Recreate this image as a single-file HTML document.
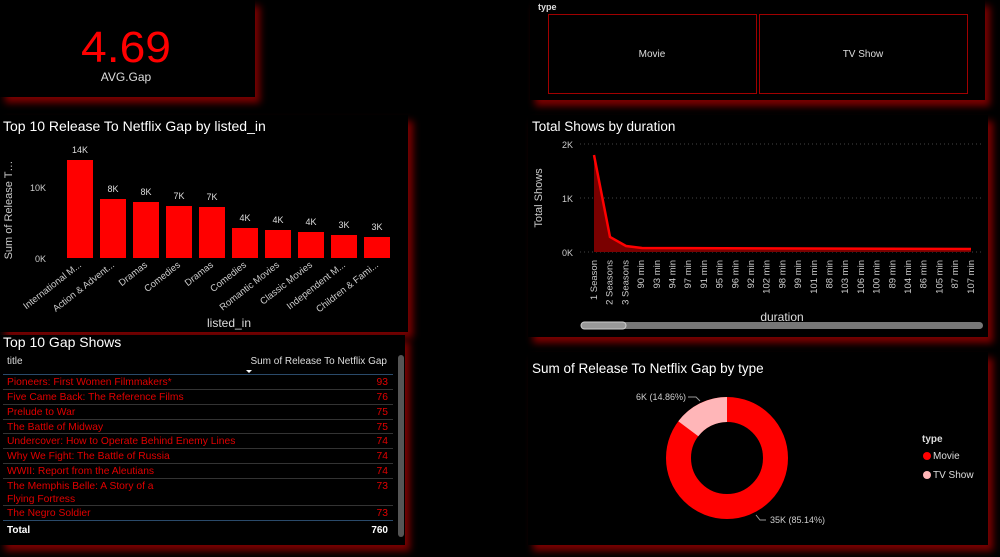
<!DOCTYPE html>
<html><head><meta charset="utf-8"><style>
body{margin:0;background:#000;width:1000px;height:557px;overflow:hidden;font-family:"Liberation Sans",sans-serif}
.p{position:absolute;background:#000;box-shadow:5px 6px 7px #7a0000}
</style></head><body>
<div class="p" style="left:0;top:0;width:255px;height:97px"></div>
<div class="p" style="left:530px;top:0;width:455px;height:100px"></div>
<div class="p" style="left:0;top:115px;width:408px;height:217px"></div>
<div class="p" style="left:528px;top:115px;width:460px;height:222px"></div>
<div class="p" style="left:0;top:335px;width:405px;height:210px"></div>
<div class="p" style="left:528px;top:352px;width:460px;height:193px"></div>
<svg width="1000" height="557" style="position:absolute;left:0;top:0" font-family="Liberation Sans, sans-serif">
<text x="126" y="62" fill="#ff0000" font-size="44" text-anchor="middle" textLength="90" lengthAdjust="spacingAndGlyphs">4.69</text>
<text x="126" y="81" fill="#ddd" font-size="12" text-anchor="middle">AVG.Gap</text>
<text x="538" y="10" fill="#ddd" font-size="9" font-weight="bold">type</text>
<rect x="548.5" y="14.5" width="208" height="79" fill="none" stroke="#a00000"/>
<rect x="759.5" y="14.5" width="208" height="79" fill="none" stroke="#a00000"/>
<text x="652" y="57" fill="#ddd" font-size="10" text-anchor="middle">Movie</text>
<text x="863" y="57" fill="#ddd" font-size="10" text-anchor="middle">TV Show</text>

<text x="3" y="131" fill="#fff" font-size="14">Top 10 Release To Netflix Gap by listed_in</text>
<text x="12" y="210" fill="#ccc" font-size="11" text-anchor="middle" transform="rotate(-90 12 210)">Sum of Release T…</text>
<text x="46" y="191" fill="#ccc" font-size="9" text-anchor="end">10K</text>
<text x="46" y="262" fill="#ccc" font-size="9" text-anchor="end">0K</text>
<g fill="#ff0000">
<rect x="67" y="160" width="26" height="98"/><rect x="100" y="199" width="26" height="59"/>
<rect x="133" y="202" width="26" height="56"/><rect x="166" y="206" width="26" height="52"/>
<rect x="199" y="207" width="26" height="51"/><rect x="232" y="228" width="26" height="30"/>
<rect x="265" y="230" width="26" height="28"/><rect x="298" y="232" width="26" height="26"/>
<rect x="331" y="235" width="26" height="23"/><rect x="364" y="237" width="26" height="21"/>
</g>
<g fill="#ddd" font-size="9" text-anchor="middle">
<text x="80" y="153">14K</text><text x="113" y="192">8K</text><text x="146" y="195">8K</text><text x="179" y="199">7K</text><text x="212" y="200">7K</text><text x="245" y="221">4K</text><text x="278" y="223">4K</text><text x="311" y="225">4K</text><text x="344" y="228">3K</text><text x="377" y="230">3K</text>
</g>
<g fill="#ccc" font-size="9.5" text-anchor="end">
<text transform="translate(82 266) rotate(-38)">International M...</text>
<text transform="translate(115 266) rotate(-38)">Action &amp; Advent...</text>
<text transform="translate(148 266) rotate(-38)">Dramas</text>
<text transform="translate(181 266) rotate(-38)">Comedies</text>
<text transform="translate(214 266) rotate(-38)">Dramas</text>
<text transform="translate(247 266) rotate(-38)">Comedies</text>
<text transform="translate(280 266) rotate(-38)">Romantic Movies</text>
<text transform="translate(313 266) rotate(-38)">Classic Movies</text>
<text transform="translate(346 266) rotate(-38)">Independent M...</text>
<text transform="translate(379 266) rotate(-38)">Children &amp; Fami...</text>
</g>
<text x="229" y="327" fill="#ddd" font-size="12" text-anchor="middle">listed_in</text>

<text x="532" y="131" fill="#fff" font-size="13.5">Total Shows by duration</text>
<text x="542" y="198" fill="#ccc" font-size="11" text-anchor="middle" transform="rotate(-90 542 198)">Total Shows</text>
<g fill="#ccc" font-size="9" text-anchor="end"><text x="573" y="148">2K</text><text x="573" y="202">1K</text><text x="573" y="256">0K</text></g>
<g stroke="#444" stroke-dasharray="1 3"><line x1="580" y1="144" x2="984" y2="144"/><line x1="580" y1="198" x2="984" y2="198"/><line x1="580" y1="252" x2="984" y2="252"/></g>
<path d="M594 155 L610 237 L626 246 L642 248 L971 249 L971 252 L594 252Z" fill="#7a0000"/>
<path d="M594 155 L610 237 L626 246 L642 248 L971 249" fill="none" stroke="#ff0000" stroke-width="2.5"/>
<g fill="#ccc" font-size="9.5" text-anchor="end" id="dl"></g>
<text x="782" y="321" fill="#ddd" font-size="12" text-anchor="middle">duration</text>
<rect x="581" y="322" width="402" height="7" rx="3.5" fill="#777"/>
<rect x="581" y="322" width="45" height="7" rx="3.5" fill="#999" stroke="#ccc"/>

<text x="3" y="347" fill="#fff" font-size="14">Top 10 Gap Shows</text>
<text x="7" y="364" fill="#ddd" font-size="10">title</text>
<text x="387" y="364" fill="#ddd" font-size="10" text-anchor="end">Sum of Release To Netflix Gap</text>
<path d="M246 370 h6 l-3 3z" fill="#fff"/>
<line x1="3" y1="374.5" x2="393" y2="374.5" stroke="#2a4a6a"/>
<g fill="#e00000" font-size="10.3">
<text x="7" y="385">Pioneers: First Women Filmmakers*</text><text x="388" y="385" text-anchor="end">93</text>
<text x="7" y="400">Five Came Back: The Reference Films</text><text x="388" y="400" text-anchor="end">76</text>
<text x="7" y="415">Prelude to War</text><text x="388" y="415" text-anchor="end">75</text>
<text x="7" y="430">The Battle of Midway</text><text x="388" y="430" text-anchor="end">75</text>
<text x="7" y="444">Undercover: How to Operate Behind Enemy Lines</text><text x="388" y="444" text-anchor="end">74</text>
<text x="7" y="459">Why We Fight: The Battle of Russia</text><text x="388" y="459" text-anchor="end">74</text>
<text x="7" y="474">WWII: Report from the Aleutians</text><text x="388" y="474" text-anchor="end">74</text>
<text x="7" y="489">The Memphis Belle: A Story of a</text><text x="388" y="489" text-anchor="end">73</text>
<text x="7" y="502">Flying Fortress</text>
<text x="7" y="516">The Negro Soldier</text><text x="388" y="516" text-anchor="end">73</text>
</g>
<g stroke="#333"><line x1="3" y1="389.5" x2="393" y2="389.5"/><line x1="3" y1="404.5" x2="393" y2="404.5"/><line x1="3" y1="419.5" x2="393" y2="419.5"/><line x1="3" y1="433.5" x2="393" y2="433.5"/><line x1="3" y1="448.5" x2="393" y2="448.5"/><line x1="3" y1="463.5" x2="393" y2="463.5"/><line x1="3" y1="478.5" x2="393" y2="478.5"/><line x1="3" y1="505.5" x2="393" y2="505.5"/></g>
<line x1="3" y1="520.5" x2="393" y2="520.5" stroke="#2a4a6a"/>
<text x="7" y="533" fill="#fff" font-size="10" font-weight="bold">Total</text>
<text x="388" y="533" fill="#fff" font-size="10" font-weight="bold" text-anchor="end">760</text>
<rect x="398" y="355" width="6" height="182" rx="3" fill="#555"/>

<text x="532" y="373" fill="#fff" font-size="13.5">Sum of Release To Netflix Gap by type</text>
<circle cx="727" cy="458" r="48.5" fill="none" stroke="#ff0000" stroke-width="25"/>
<path d="M727 397 A61 61 0 0 0 678.3 421.3 L698.3 436.3 A36 36 0 0 1 727 422Z" fill="#ffb6b8"/>
<path d="M688 397 h8 l4 4" fill="none" stroke="#999"/>
<text x="686" y="400" fill="#ccc" font-size="9" text-anchor="end">6K (14.86%)</text>
<path d="M756 515 l4 5 h6" fill="none" stroke="#999"/>
<text x="770" y="523" fill="#ccc" font-size="9">35K (85.14%)</text>
<text x="922" y="442" fill="#ddd" font-size="10" font-weight="bold">type</text>
<circle cx="927" cy="456" r="4" fill="#ff0000"/><text x="933" y="459" fill="#ddd" font-size="10">Movie</text>
<circle cx="927" cy="475" r="4" fill="#ffb6b8"/><text x="933" y="478" fill="#ddd" font-size="10">TV Show</text>
</svg>
<script>
var L=["1 Season","2 Seasons","3 Seasons","90 min","93 min","94 min","97 min","91 min","95 min","96 min","92 min","102 min","98 min","99 min","101 min","88 min","103 min","106 min","100 min","89 min","104 min","86 min","105 min","87 min","107 min"];
var g=document.getElementById('dl'),s='';
for(var i=0;i<L.length;i++){var x=597+i*15.7;s+='<text transform="translate('+x+' 260) rotate(-90)">'+L[i]+'</text>';}
g.innerHTML=s;
</script>
</body></html>
